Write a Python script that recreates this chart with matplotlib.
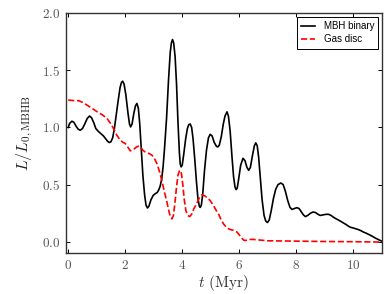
import numpy as np
import matplotlib
matplotlib.use("Agg")
import matplotlib.pyplot as plt

# luminosity of MBH binary (normalised)
t_bin = [0.0, 0.05, 0.13, 0.2, 0.28, 0.35, 0.42, 0.5, 0.58, 0.67, 0.75, 0.82, 0.9, 0.97, 1.06, 1.15, 1.24,
         1.32, 1.38, 1.44, 1.5, 1.56, 1.62, 1.69, 1.75, 1.82, 1.87, 1.91, 1.96, 2.02, 2.1, 2.15, 2.19,
         2.24, 2.3, 2.36, 2.41, 2.46, 2.51, 2.56, 2.62, 2.68, 2.73, 2.78, 2.83, 2.9, 2.98, 3.05,
         3.12, 3.18, 3.23, 3.28, 3.33, 3.38, 3.45, 3.52, 3.58, 3.62, 3.66, 3.7, 3.75, 3.8, 3.85,
         3.9, 3.93, 3.96, 4.0, 4.05, 4.12, 4.18, 4.23, 4.28, 4.33, 4.38, 4.44, 4.5, 4.55, 4.6, 4.63,
         4.67, 4.72, 4.78, 4.85, 4.92, 4.98, 5.05, 5.12, 5.2, 5.25, 5.3, 5.37, 5.44, 5.5, 5.57, 5.62,
         5.68, 5.74, 5.8, 5.85, 5.89, 5.93, 5.98, 6.05, 6.13, 6.2, 6.27, 6.33, 6.39, 6.46, 6.53,
         6.58, 6.63, 6.68, 6.74, 6.8, 6.87, 6.93, 6.99, 7.05, 7.12, 7.2, 7.28, 7.36, 7.46, 7.54,
         7.62, 7.7, 7.78, 7.85, 7.93, 8.02, 8.1, 8.18, 8.25, 8.32, 8.4, 8.5, 8.59, 8.68, 8.76, 8.84,
         8.95, 9.05, 9.13, 9.22, 9.3, 9.4, 9.48, 9.58, 9.65, 9.75, 9.84, 9.92, 10.0, 10.1, 10.19,
         10.28, 10.35, 10.45, 10.54, 10.65, 10.75, 10.85, 10.95, 11.0]
L_bin = [1.00, 1.035, 1.055, 1.045, 1.01, 0.985, 0.976, 0.99, 1.03, 1.08, 1.10, 1.085, 1.04, 0.99, 0.965, 0.945, 0.925,
         0.90, 0.88, 0.868, 0.875, 0.91, 0.99, 1.12, 1.23, 1.35, 1.395, 1.405, 1.38, 1.29, 1.12, 1.03, 1.005,
         1.03, 1.12, 1.19, 1.21, 1.17, 1.03, 0.83, 0.58, 0.41, 0.32, 0.295, 0.31, 0.365, 0.405, 0.42,
         0.43, 0.455, 0.49, 0.55, 0.66, 0.82, 1.08, 1.42, 1.66, 1.74, 1.77, 1.74, 1.62, 1.38, 1.05,
         0.78, 0.68, 0.655, 0.67, 0.76, 0.90, 0.99, 1.025, 1.03, 1.00, 0.90, 0.72, 0.52, 0.38, 0.31, 0.30,
         0.32, 0.42, 0.62, 0.80, 0.91, 0.94, 0.925, 0.87, 0.835, 0.83, 0.845, 0.92, 1.03, 1.10, 1.137, 1.10,
         0.97, 0.76, 0.57, 0.48, 0.456, 0.47, 0.55, 0.67, 0.73, 0.71, 0.65, 0.625, 0.65, 0.75, 0.84,
         0.865, 0.84, 0.74, 0.55, 0.37, 0.23, 0.18, 0.168, 0.19, 0.27, 0.38, 0.46, 0.50, 0.514, 0.50,
         0.44, 0.36, 0.30, 0.283, 0.29, 0.298, 0.29, 0.26, 0.235, 0.22, 0.23, 0.25, 0.26, 0.255, 0.24, 0.23,
         0.235, 0.24, 0.24, 0.23, 0.215, 0.20, 0.19, 0.175, 0.165, 0.15, 0.134, 0.125, 0.12, 0.112, 0.105,
         0.095, 0.085, 0.075, 0.064, 0.05, 0.035, 0.022, 0.01, 0.005]

# gas disc
t_gas = [0.0, 0.2, 0.36, 0.5, 0.66, 0.85, 1.0, 1.2, 1.36, 1.5, 1.59, 1.7, 1.82, 1.92, 2.0, 2.1,
         2.18, 2.3, 2.4, 2.47, 2.55, 2.62, 2.7, 2.85, 2.94, 3.02, 3.1, 3.17, 3.23, 3.3, 3.38, 3.46,
         3.53, 3.58, 3.64, 3.69, 3.74, 3.8, 3.85, 3.9, 3.93, 3.97, 4.02, 4.07, 4.13, 4.19, 4.26,
         4.33, 4.4, 4.5, 4.6, 4.69, 4.8, 4.9, 4.98, 5.1, 5.2, 5.27, 5.35, 5.45, 5.57, 5.7, 5.8,
         5.92, 6.0, 6.08, 6.15, 6.21, 6.35, 6.5, 6.7, 7.0, 8.0, 9.0, 10.0, 11.0]
L_gas = [1.24, 1.235, 1.235, 1.22, 1.196, 1.165, 1.14, 1.11, 1.08, 1.03, 0.99, 0.935, 0.89, 0.87, 0.86, 0.825,
         0.795, 0.81, 0.83, 0.836, 0.825, 0.80, 0.786, 0.77, 0.757, 0.73, 0.69, 0.64, 0.59, 0.52, 0.43, 0.35,
         0.27, 0.22, 0.20, 0.23, 0.33, 0.48, 0.58, 0.62, 0.625, 0.60, 0.50, 0.37, 0.27, 0.23, 0.22,
         0.24, 0.285, 0.33, 0.385, 0.41, 0.40, 0.38, 0.36, 0.315, 0.27, 0.245, 0.20, 0.155, 0.12, 0.105, 0.10,
         0.085, 0.06, 0.035, 0.015, 0.01, 0.02, 0.02, 0.015, 0.008, 0.005, 0.002, 0.0, -0.003]

plt.rcParams['font.family'] = 'cmr10'
plt.rcParams['axes.formatter.use_mathtext'] = True
plt.rcParams['mathtext.fontset'] = 'cm'

fig = plt.figure(figsize=(3.9, 2.94), dpi=100)
ax = fig.add_axes([0.169, 0.139, 0.81, 0.816])

ax.plot(t_bin, L_bin, color="black", lw=1.2, label="MBH binary")
ax.plot(t_gas, L_gas, "--", color="red", lw=1.2, label="Gas disc")

ax.set_xlim(-0.08, 11)
ax.set_ylim(-0.1, 2.0)
ax.set_xticks([0, 2, 4, 6, 8, 10])
ax.set_yticks([0.0, 0.5, 1.0, 1.5, 2.0])
ax.tick_params(direction="in", top=True, right=True, labelsize=9.5, labelcolor="#555555",
               length=3, width=0.7, pad=4)
for s in ax.spines.values():
    s.set_color("#333333")
    s.set_linewidth(1.0)

ax.set_xlabel(r"$t$ (Myr)", fontsize=11, color="#333333", labelpad=1)
ax.set_ylabel(r"$L/L_{0,\mathrm{MBHB}}$", fontsize=11.5, color="#222222", labelpad=5)

leg = ax.legend(loc="upper right", prop={"family": "Liberation Sans", "size": 7},
                fancybox=False, framealpha=1, edgecolor="black", handlelength=1.4,
                handletextpad=0.9, borderaxespad=0.35, borderpad=0.45, labelspacing=0.35)
leg.get_frame().set_linewidth(0.7)

fig.savefig("out.png", dpi=100)
